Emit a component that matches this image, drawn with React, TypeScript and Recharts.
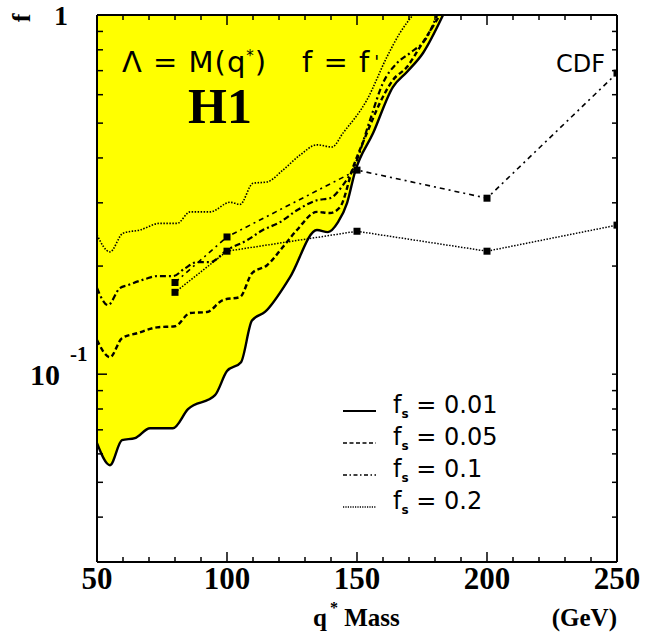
import React from 'react'
import { ComposedChart, Area, Line, XAxis, YAxis } from 'recharts'

// tick values
const massTicks = [50, 60, 70, 80, 90, 100, 110, 120, 130, 140, 150, 160, 170, 180, 190, 200, 210, 220, 230, 240, 250]
const fTicks = [0.03, 0.04, 0.05, 0.06, 0.07, 0.08, 0.09, 0.1, 0.2, 0.3, 0.4, 0.5, 0.6, 0.7, 0.8, 0.9, 1]

// H1 limit curves, [mass (GeV), f]
const h1Fs001 = [
  [50, 0.0643], [55, 0.0558], [59.6, 0.0655], [64.6, 0.0664], [70.4, 0.0707], [79.2, 0.0707],
  [85, 0.0799], [95.4, 0.0874], [100, 0.102], [105.4, 0.108], [109.6, 0.141], [114.6, 0.149],
  [124.2, 0.186], [134.6, 0.252], [138.8, 0.2486], [142.7, 0.265], [146.2, 0.3], [149.2, 0.365],
  [156.2, 0.469], [163.8, 0.63], [169.2, 0.694], [175.4, 0.784], [183.1, 1],
]
const h1Fs005 = [
  [50, 0.1244], [55, 0.1115], [59.6, 0.126], [65.4, 0.13], [73.1, 0.135], [80, 0.136],
  [85.8, 0.148], [92.3, 0.149], [98.5, 0.161], [105, 0.164], [109.6, 0.191], [115.4, 0.201],
  [121.5, 0.226], [126.9, 0.252], [134.6, 0.283], [139.6, 0.281], [143.5, 0.292], [148.5, 0.377],
  [153.8, 0.469], [158.8, 0.569], [163.8, 0.659], [169.2, 0.716], [174.2, 0.814], [181.9, 1],
]
const h1Fs01 = [
  [50, 0.1737], [54.2, 0.1557], [58.8, 0.1737], [61.9, 0.177], [68.5, 0.184], [73.1, 0.1875],
  [79.2, 0.1875], [83.8, 0.197], [88.5, 0.205], [93.5, 0.205], [100, 0.2215], [107.7, 0.236],
  [113.8, 0.252], [120.4, 0.265], [126.9, 0.286], [134.6, 0.305], [139.6, 0.309], [144.6, 0.336],
  [149.2, 0.382], [155, 0.51], [160, 0.647], [165.4, 0.735], [170.4, 0.784], [176.9, 0.868], [180.8, 1],
]
const h1Fs02 = [
  [50, 0.244], [55, 0.219], [60, 0.247], [66.5, 0.252], [74.2, 0.263], [80.8, 0.263],
  [85.8, 0.283], [93.5, 0.283], [101.2, 0.301], [105, 0.297], [110, 0.34], [115.4, 0.343],
  [121.5, 0.37], [128, 0.407], [134.6, 0.435], [140.4, 0.429], [144.6, 0.469], [153.8, 0.58],
  [161.5, 0.764], [166.5, 0.891], [171.5, 1],
]

// CDF points
const cdfMass = [80, 100, 150, 200, 250]
const cdfFs01 = [0.18, 0.241, 0.37, 0.309, 0.689]
const cdfFs02 = [0.169, 0.22, 0.25, 0.22, 0.26]

const legendLabels = ['0.01', '0.05', '0.1', '0.2']
const legendDash = ['0', '4 2.5', '4 2.5 1.5 2.5', '1.2 1.2']

const toPts = (pairs: number[][]) => pairs.map(([m, f]) => ({ m, f }))
const cdfPts = (vals: number[]) => vals.map((f, i) => ({ m: cdfMass[i], f }))

const serif = '"Liberation Serif", "Times New Roman", serif'
const sans = '"DejaVu Sans", "Liberation Sans", sans-serif'

const Square = (props: any) => {
  const { cx, cy } = props
  if (cx == null || cy == null) return null
  return <rect x={cx - 3.5} y={cy - 3.5} width={7} height={7} fill="#000" />
}

const BottomTick = ({ x, y, payload }: any) => {
  const major = payload.value % 50 === 0
  return (
    <g>
      <line x1={x} x2={x} y1={y} y2={y - (major ? 10 : 5)} stroke="#000" strokeWidth={1.5} />
      {major && (
        <text x={x} y={y + 27} textAnchor="middle" fontFamily={serif} fontWeight="bold" fontSize={31} fill="#000">
          {payload.value}
        </text>
      )}
    </g>
  )
}

const TopTick = ({ x, y, payload }: any) => {
  const major = payload.value % 50 === 0
  return <line x1={x} x2={x} y1={y} y2={y + (major ? 10 : 5)} stroke="#000" strokeWidth={1.5} />
}

const LeftTick = ({ x, y, payload }: any) => {
  const v = payload.value
  const major = v === 0.1 || v === 1
  return (
    <g>
      <line x1={x} x2={x + (major ? 10 : 6)} y1={y} y2={y} stroke="#000" strokeWidth={1.5} />
      {v === 1 && (
        <text x={x - 29} y={y + 10} textAnchor="end" fontFamily={serif} fontWeight="bold" fontSize={28} fill="#000">1</text>
      )}
      {v === 0.1 && (
        <g fontFamily={serif} fontWeight="bold" fill="#000">
          <text x={x - 37} y={y + 11} textAnchor="end" fontSize={30}>10</text>
          <text x={x - 27} y={y - 13} textAnchor="start" fontSize={21}>-1</text>
        </g>
      )}
    </g>
  )
}

const RightTick = ({ x, y }: any) => (
  <line x1={x} x2={x - 5} y1={y} y2={y} stroke="#000" strokeWidth={1.5} />
)

const axisLine = { stroke: '#000', strokeWidth: 2 }

export default function App() {
  return (
    <div style={{ position: 'absolute', left: 0, top: 0, width: 657, height: 634, background: '#fff' }}>
      <ComposedChart width={657} height={634} margin={{ top: 0, right: 0, bottom: 0, left: 0 }}>
        <XAxis
          type="number"
          dataKey="m"
          domain={[50, 250]}
          ticks={massTicks}
          allowDataOverflow
          height={72}
          tickSize={0}
          tickMargin={0}
          tickLine={false}
          axisLine={axisLine}
          tick={<BottomTick />}
          interval={0}
        />
        <XAxis
          xAxisId="top"
          orientation="top"
          type="number"
          dataKey="m"
          domain={[50, 250]}
          ticks={massTicks}
          allowDataOverflow
          height={15}
          tickSize={0}
          tickMargin={0}
          tickLine={false}
          axisLine={axisLine}
          tick={<TopTick />}
          interval={0}
        />
        <YAxis
          type="number"
          dataKey="f"
          scale="log"
          domain={[0.03, 1]}
          ticks={fTicks}
          allowDataOverflow
          width={97}
          tickSize={0}
          tickMargin={0}
          tickLine={false}
          axisLine={axisLine}
          tick={<LeftTick />}
          interval={0}
        />
        <YAxis
          yAxisId="right"
          orientation="right"
          type="number"
          dataKey="f"
          scale="log"
          domain={[0.03, 1]}
          ticks={fTicks}
          allowDataOverflow
          width={40}
          tickSize={0}
          tickMargin={0}
          tickLine={false}
          axisLine={axisLine}
          tick={<RightTick />}
          interval={0}
        />
        <Area
          data={toPts(h1Fs001)}
          dataKey="f"
          type="monotone"
          baseValue={1}
          fill="#ffff00"
          fillOpacity={1}
          stroke="none"
          isAnimationActive={false}
        />
        <Line data={toPts(h1Fs02)} dataKey="f" type="monotone" stroke="#000" strokeWidth={1.6} strokeDasharray="1.5 1.5" dot={false} isAnimationActive={false} />
        <Line data={toPts(h1Fs01)} dataKey="f" type="monotone" stroke="#000" strokeWidth={2.2} strokeDasharray="6 3 2 3" dot={false} isAnimationActive={false} />
        <Line data={toPts(h1Fs005)} dataKey="f" type="monotone" stroke="#000" strokeWidth={2.4} strokeDasharray="5 3" dot={false} isAnimationActive={false} />
        <Line data={toPts(h1Fs001)} dataKey="f" type="monotone" stroke="#000" strokeWidth={2.4} dot={false} isAnimationActive={false} />
        <Line data={cdfPts(cdfFs01)} dataKey="f" type="linear" stroke="#000" strokeWidth={1.6} strokeDasharray="5 4 2 4" dot={<Square />} isAnimationActive={false} />
        <Line data={cdfPts(cdfFs02)} dataKey="f" type="linear" stroke="#000" strokeWidth={1.5} strokeDasharray="1.5 1.5" dot={<Square />} isAnimationActive={false} />
      </ComposedChart>

      <svg width={657} height={634} style={{ position: 'absolute', left: 0, top: 0, pointerEvents: 'none' }}>
        <text transform="translate(30,18) rotate(-90)" textAnchor="middle" fontFamily={serif} fontWeight="bold" fontSize={26} fill="#000">f</text>
        <text x={122} y={72} fontFamily={sans} fontSize={29} letterSpacing={1} fill="#000">
          Λ = M(q<tspan dy={-11} fontSize={15}>*</tspan><tspan dy={11}>)</tspan>
        </text>
        <text x={302} y={72} fontFamily={sans} fontSize={29} letterSpacing={1} fill="#000">f = f<tspan dx={4} dy={-4} fontSize={18}>'</tspan></text>
        <text x={188} y={123} fontFamily={serif} fontWeight="bold" fontSize={50} fill="#000">H1</text>
        <text x={556} y={72} fontFamily={sans} fontSize={24} fill="#000">CDF</text>
        <text x={313} y={626} fontFamily={serif} fontWeight="bold" fontSize={25} fill="#000">
          q<tspan dx={3} dy={-13} fontSize={16}>*</tspan><tspan dy={13}> Mass</tspan>
        </text>
        <text x={617} y={626} textAnchor="end" fontFamily={serif} fontWeight="bold" fontSize={25} fill="#000">(GeV)</text>
        {legendLabels.map((lab, i) => {
          const ly = 413 + i * 32
          return (
            <g key={lab}>
              <line x1={343} x2={376} y1={ly - 2} y2={ly - 2} stroke="#000" strokeWidth={i === 0 ? 2.2 : 1.5} strokeDasharray={legendDash[i]} />
              <text x={393} y={ly} fontFamily={sans} fontSize={24} fill="#000">
                f<tspan dy={5} fontSize={12} fontWeight="bold">s</tspan><tspan dy={-5}> = {lab}</tspan>
              </text>
            </g>
          )
        })}
      </svg>
    </div>
  )
}
